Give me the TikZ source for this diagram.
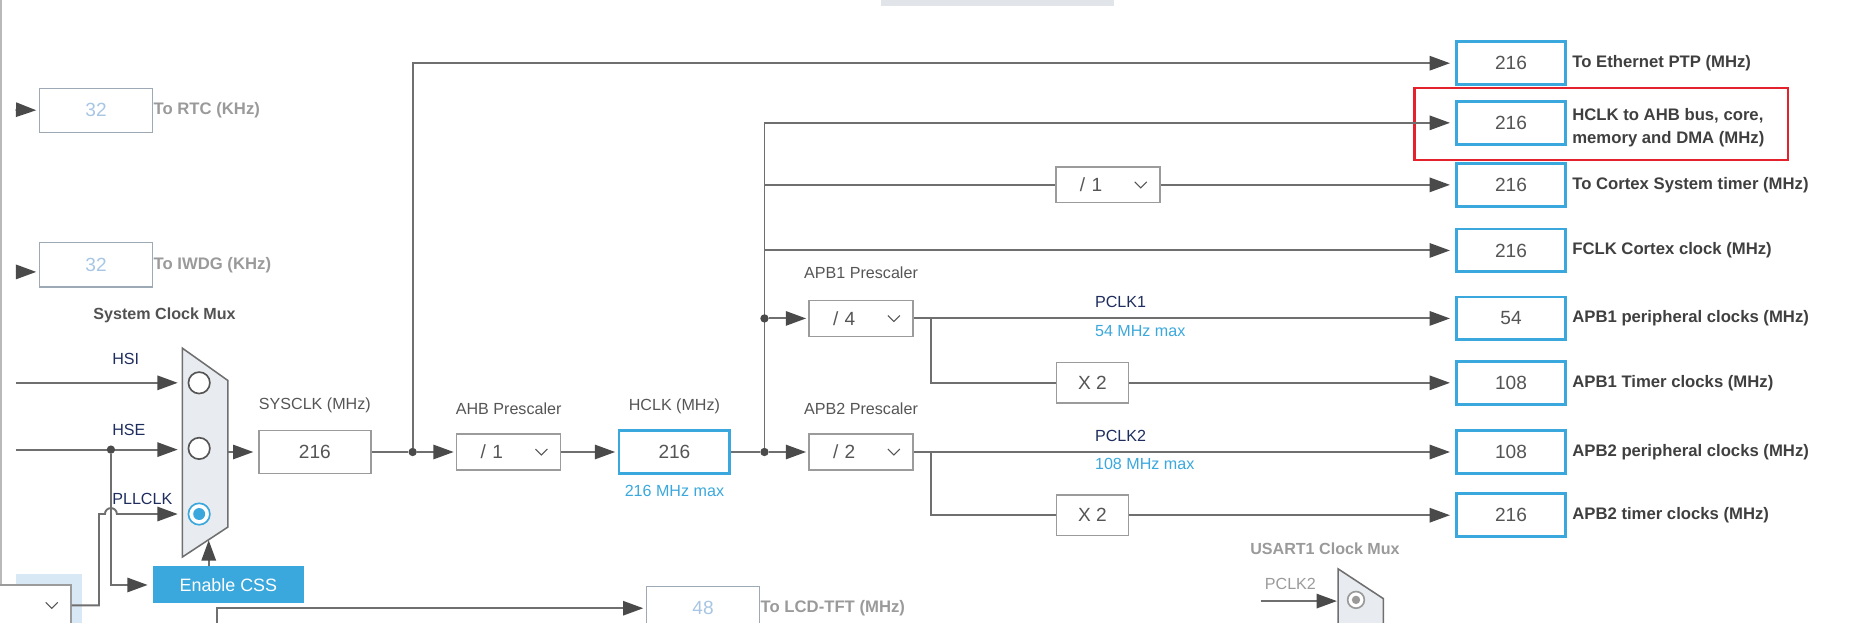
\documentclass[tikz,border=0pt]{standalone}
\usepackage{fontspec}
\setmainfont{Liberation Sans}
\usetikzlibrary{arrows.meta,positioning,calc}

\definecolor{wiregrey}{HTML}{6F6F6F}
\definecolor{tipgrey}{HTML}{4A4A4A}
\definecolor{boxgrey}{HTML}{9B9B9B}
\definecolor{cubeblue}{HTML}{3AA8DC}
\definecolor{navytxt}{HTML}{1E2D5E}
\definecolor{valgrey}{HTML}{555555}
\definecolor{labgrey}{HTML}{3F3F3F}
\definecolor{fadegrey}{HTML}{9A9A9A}
\definecolor{fadeblue}{HTML}{A8C6E4}
\definecolor{fadeframe}{HTML}{9DA9B5}
\definecolor{muxfill}{HTML}{E8ECF0}
\definecolor{selfill}{HTML}{D9E8F5}
\definecolor{tabfill}{HTML}{E1E5E9}
\definecolor{markred}{HTML}{E3222B}

\newcommand{\valfont}{\fontsize{16}{18}\selectfont}
\newcommand{\capfont}{\fontsize{13.5}{15}\selectfont}
\newcommand{\labfont}{\fontsize{14}{19.5}\selectfont\bfseries}

\tikzset{
  wire/.style={draw=wiregrey, line width=1.6pt},
  feed/.style={wire, -{Triangle[length=17pt,width=12pt,color=tipgrey]}, shorten >=4pt},
  joint/.style={circle, fill=tipgrey, inner sep=0pt, minimum size=7pt},
  chevron/.style={path picture={
      \draw[valgrey, line width=0.9pt]
        ([xshift=-21pt,yshift=2.5pt]path picture bounding box.east) -- ++(5pt,-5pt) -- ++(5pt,5pt);}},
  outbox/.style={draw=cubeblue, fill=white, line width=2.4pt, minimum width=92pt,
      minimum height=36pt, text=valgrey, font=\valfont, inner sep=0pt},
  valbox/.style={draw=boxgrey, fill=white, line width=1.2pt, minimum width=94pt,
      minimum height=36pt, text=valgrey, font=\valfont, inner sep=0pt},
  lowbox/.style={draw=fadeframe, fill=white, line width=1.2pt, minimum width=95pt,
      minimum height=37pt, text=fadeblue, font=\valfont, inner sep=0pt},
  prescbox/.style={draw=boxgrey, fill=white, line width=1.2pt, minimum height=30pt,
      text width=47pt, inner xsep=20pt, inner ysep=0pt, align=left,
      text=valgrey, font=\valfont, chevron},
  mulbox/.style={draw=boxgrey, fill=white, line width=1.2pt, minimum width=60pt,
      minimum height=34pt, text=valgrey, font=\valfont, inner sep=0pt},
  radio/.style={circle, draw=valgrey, fill=white, line width=1.4pt, minimum size=18pt, inner sep=0pt},
  outlabel/.style={anchor=west, text=labgrey, font=\labfont, inner sep=4pt, align=left},
  fadelabel/.style={anchor=west, text=fadegrey, font=\labfont, inner sep=0pt},
  caption/.style={text=valgrey, font=\capfont, inner sep=0pt, text height=10pt, text depth=0pt},
  signame/.style={anchor=base west, text=navytxt, font=\capfont, inner sep=0pt},
  maxnote/.style={text=cubeblue, font=\capfont, inner sep=0pt, text height=10pt, text depth=0pt},
  cssbtn/.style={fill=cubeblue, text=white, font=\fontsize{15}{17}\selectfont,
      minimum width=127pt, minimum height=31pt, inner sep=0pt}
}

\begin{document}
\begin{tikzpicture}[x=1pt, y=-1pt]
  \useasboundingbox (0,0) rectangle (1568,522);
  \clip (0,0) rectangle (1568,522);

  % frame bits
  \draw[draw=boxgrey!70, line width=1.2pt] (0.8,0) -- (0.8,522);
  \fill[tabfill] (739,0) rectangle (934,5);

  % RTC / IWDG
  \node[lowbox] (rtc) at (80.5,92.5) {32};
  \node[fadelabel] (rtclab) at (rtc.east) {To RTC (KHz)};
  \node[lowbox] (iwdg) at (80.5,222) {32};
  \node[fadelabel] (iwdglab) at (iwdg.east) {To IWDG (KHz)};
  \coordinate (rtcsrc) at (13,92);
  \coordinate (iwdgsrc) at (13,228);
  \draw[feed, shorten >=2pt] (rtcsrc) -- (rtc.west);
  \draw[feed, shorten >=2pt] (iwdgsrc) -- (iwdgsrc -| iwdg.west);

  % System clock mux
  \node[text=labgrey!90, font=\fontsize{13.5}{15}\selectfont\bfseries, inner sep=0pt] (muxcap) at (138,264) {System Clock Mux};
  \filldraw[fill=muxfill, draw=wiregrey, line width=1.3pt]
    (153,292) -- (191,319) -- (191,442) -- (153,467) -- cycle;
  \coordinate (muxedge) at (153,0);
  \node[radio] (rhsi) at (167,321) {};
  \node[radio] (rhse) at (167,376) {};
  \node[radio, draw=cubeblue] (rpll) at (167,431) {};
  \fill[cubeblue] (rpll) circle (5pt);

  \node[signame] (hsilab) at (94,306) {HSI};
  \node[signame] (hselab) at (94,365) {HSE};
  \node[signame] (plllab) at (94,423) {PLLCLK};

  % inputs
  \coordinate (hsisrc) at (13,321);
  \coordinate (hsesrc) at (13,377);
  \draw[feed] (hsisrc) -- (hsisrc -| muxedge);
  \draw[feed] (hsesrc) -- (hsesrc -| muxedge);

  % PLL source selector
  \fill[selfill] (13,481) rectangle (69,530);
  \node[draw=boxgrey, fill=white, line width=1.2pt, minimum width=80pt, minimum height=34pt,
        anchor=north east, chevron] (pllsel) at (60,490) {};
  \node[joint] (hsedot) at (93,377) {};
  \draw[feed] (pllsel.east) -- ++(23,0) |- ($(hsedot |- rpll)+(-5,0)$)
    arc[start angle=180, end angle=0, radius=5pt] -- (rpll -| muxedge);

  % clock security
  \node[cssbtn] (css) at (191.5,490.5) {Enable CSS};
  \draw[feed] (hsedot) |- (css.west);
  \coordinate (muxsel) at (175,453);
  \draw[feed, shorten >=0pt] (css.north -| muxsel) -- (muxsel);

  % SYSCLK and AHB
  \node[valbox] (sysclk) at (264,379) {216};
  \node[caption, above=17pt of sysclk] (syscap) {SYSCLK (MHz)};
  \coordinate (muxout) at (191,379);
  \draw[feed] (muxout) -- (sysclk.west);
  \node[joint] (sysdot) at (346,379) {};
  \draw[wire] (sysclk.east) -- (sysdot);

  \node[prescbox] (ahb) at (426.5,379) {/ 1};
  \node[caption, above=16pt of ahb] (ahbcap) {AHB Prescaler};
  \node[outbox, minimum width=93pt] (hclk) at (565.5,379) {216};
  \node[caption, above=15pt of hclk] (hclkcap) {HCLK (MHz)};
  \node[maxnote, below=8pt of hclk] (hclkmax) {216 MHz max};
  \draw[feed, shorten >=2pt] (sysdot) -- (ahb.west);
  \draw[feed, shorten >=2pt] (ahb.east) -- (hclk.west);
  \node[joint] (busdot) at (641,379) {};
  \draw[wire] (hclk.east) -- (busdot);

  % outputs on the right
  \node[outbox] (ethout) at (1267,53) {216};
  \node[outlabel] (ethlab) at (ethout.east) {To Ethernet PTP (MHz)};
  \node[outbox] (hclkout) at (1267,103) {216};
  \node[outlabel] (hclklab) at ([yshift=-4pt]hclkout.east) {HCLK to AHB bus, core,\\memory and DMA (MHz)};
  \node[outbox] (cortexout) at (1267,155) {216};
  \node[outlabel] (cortexlab) at (cortexout.east) {To Cortex System timer (MHz)};
  \node[outbox] (fclkout) at (1267,210) {216};
  \node[outlabel] (fclklab) at (fclkout.east) {FCLK Cortex clock (MHz)};
  \node[outbox] (apb1out) at (1267,267) {54};
  \node[outlabel] (apb1lab) at (apb1out.east) {APB1 peripheral clocks (MHz)};
  \node[outbox] (apb1tim) at (1267,321) {108};
  \node[outlabel] (apb1timlab) at (apb1tim.east) {APB1 Timer clocks (MHz)};
  \node[outbox] (apb2out) at (1267,379) {108};
  \node[outlabel] (apb2lab) at (apb2out.east) {APB2 peripheral clocks (MHz)};
  \node[outbox] (apb2tim) at (1267,432) {216};
  \node[outlabel] (apb2timlab) at (apb2tim.east) {APB2 timer clocks (MHz)};
  \draw[markred, line width=2pt] (1186,74) rectangle (1499,134);

  % SYSCLK to ethernet
  \draw[feed] (sysdot) |- (ethout.west);

  % HCLK bus
  \draw[feed] (busdot) |- (hclkout.west);
  \node[prescbox] (cortexdiv) at (929,155) {/ 1};
  \draw[wire] (busdot |- cortexdiv.west) -- (cortexdiv.west);
  \draw[feed] (cortexdiv.east) -- (cortexout.west);
  \draw[feed] (busdot |- fclkout.west) -- (fclkout.west);

  % APB1
  \node[joint] (apb1dot) at (641,267) {};
  \node[prescbox] (apb1div) at (722,267) {/ 4};
  \node[caption, above=18pt of apb1div] (apb1cap) {APB1 Prescaler};
  \draw[feed, shorten >=2pt] (apb1dot) -- (apb1div.west);
  \draw[feed] (apb1div.east) -- (apb1out.west);
  \node[signame] (pclk1lab) at (918,258) {PCLK1};
  \node[maxnote, anchor=west] (pclk1max) at (918,277) {54 MHz max};
  \coordinate (apb1tap) at (781,267);
  \node[mulbox] (tim1mul) at (916,321) {X 2};
  \draw[wire] (apb1tap) |- (tim1mul.west);
  \draw[feed] (tim1mul.east) -- (apb1tim.west);

  % APB2
  \node[prescbox] (apb2div) at (722,379) {/ 2};
  \node[caption, above=16pt of apb2div] (apb2cap) {APB2 Prescaler};
  \draw[feed, shorten >=2pt] (busdot) -- (apb2div.west);
  \draw[feed] (apb2div.east) -- (apb2out.west);
  \node[signame] (pclk2lab) at (918,370) {PCLK2};
  \node[maxnote, anchor=west] (pclk2max) at (918,389) {108 MHz max};
  \coordinate (apb2tap) at (781,379);
  \node[mulbox] (tim2mul) at (916,432) {X 2};
  \draw[wire] (apb2tap) |- (tim2mul.west);
  \draw[feed] (tim2mul.east) -- (apb2tim.west);

  % LCD-TFT
  \node[lowbox, minimum height=36pt] (lcd) at (589.5,510) {48};
  \node[fadelabel] (lcdlab) at (lcd.east) {To LCD-TFT (MHz)};
  \coordinate (lcdsrc) at (182,540);
  \draw[feed, shorten >=2pt] (lcdsrc) |- (lcd.west);

  % USART1 mux
  \node[text=fadegrey, font=\fontsize{13.5}{15}\selectfont\bfseries, inner sep=0pt] (usartcap) at (1111,460) {USART1 Clock Mux};
  \filldraw[fill=muxfill, draw=wiregrey, line width=1.3pt]
    (1122,477) -- (1160,502) -- (1160,530) -- (1122,530) -- cycle;
  \node[radio, draw=fadegrey, minimum size=14pt] (rusart) at (1137,503) {};
  \fill[fadegrey] (rusart) circle (3.5pt);
  \node[text=fadegrey, font=\capfont, inner sep=0pt] (usartin) at (1082,490) {PCLK2};
  \coordinate (pclk2src) at (1057,504);
  \draw[feed, shorten >=1pt] (pclk2src) -- (pclk2src -| 1122,0);
\end{tikzpicture}
\end{document}
